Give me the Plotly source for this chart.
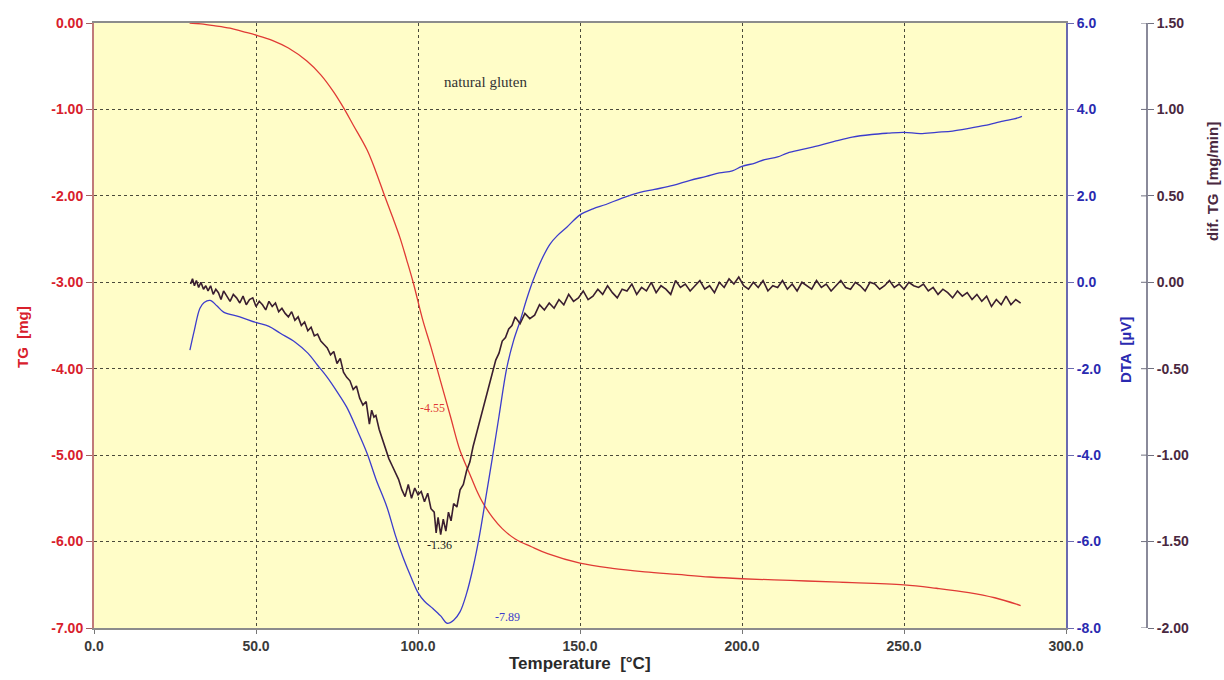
import plotly.graph_objects as go

# ---------------- data ----------------
tg_temp = [29.5, 33, 37, 42, 46, 50, 55, 60, 65.7, 70, 74, 77, 80, 84.3, 87, 89.8, 92, 94.4, 96.5,
           98.5, 101.5, 104, 107, 110, 113, 116, 118, 120, 123, 126, 130, 135, 140, 150, 160, 170,
           180, 190, 200, 215, 230, 250, 260, 270, 278, 286]
tg_mg = [0.0, -0.01, -0.03, -0.06, -0.10, -0.14, -0.20, -0.29, -0.44, -0.60, -0.80, -0.98, -1.18,
         -1.47, -1.72, -2.01, -2.23, -2.48, -2.74, -3.00, -3.44, -3.75, -4.15, -4.55, -4.95, -5.22,
         -5.40, -5.55, -5.72, -5.85, -5.97, -6.06, -6.14, -6.25, -6.31, -6.35, -6.38, -6.41, -6.43,
         -6.45, -6.47, -6.50, -6.54, -6.59, -6.65, -6.74]

dta_temp = [29.6, 31, 32.7, 34, 35.8, 38, 40, 45, 50, 54, 57.5, 62, 66, 69, 72, 75, 78, 81, 84.3,
            87, 90.4, 93, 95.4, 98, 100, 102, 104.6, 107, 109, 111, 113, 115, 117, 119, 121, 123.2,
            125, 127.4, 129.5, 131.5, 133.5, 135.5, 138, 140.7, 143, 146, 150, 154, 158, 163, 168.5,
            173, 178.7, 184, 189, 193, 197, 200, 204, 207, 211, 214, 219, 224, 229, 234, 240, 245,
            250, 255, 260, 265, 270, 275, 280.6, 284, 286.4]
dta_uv = [-1.57, -1.10, -0.60, -0.47, -0.42, -0.55, -0.69, -0.80, -0.93, -1.02, -1.18, -1.38, -1.64,
          -1.92, -2.20, -2.53, -2.89, -3.38, -3.96, -4.55, -5.20, -5.85, -6.37, -6.85, -7.18, -7.38,
          -7.55, -7.72, -7.89, -7.82, -7.62, -7.20, -6.60, -5.85, -4.95, -3.95, -3.10, -1.98, -1.35,
          -0.90, -0.40, 0.04, 0.50, 0.88, 1.08, 1.28, 1.56, 1.70, 1.80, 1.95, 2.08, 2.15, 2.24, 2.36,
          2.45, 2.53, 2.58, 2.68, 2.76, 2.84, 2.90, 2.99, 3.08, 3.17, 3.27, 3.36, 3.42, 3.45, 3.47,
          3.44, 3.47, 3.50, 3.56, 3.63, 3.73, 3.78, 3.84]

dtg_temp = [29.8, 30.4, 31.0, 31.6, 32.3, 33.0, 33.8, 34.5, 35.2, 36.0, 36.8, 37.6, 38.4, 39.2, 40.0,
            41, 42, 43, 44, 45, 46, 47, 48, 49, 50, 51, 52, 53, 54, 55, 56, 57, 58, 59, 60, 61, 62,
            63, 64, 65, 66, 67, 68, 69, 70, 71, 72, 73, 74, 75, 76, 77, 78, 79, 80, 81, 82, 83, 84,
            85, 85.7, 86.4, 87, 88, 89, 90, 91, 92, 93, 94, 95, 96, 97, 98, 99, 100, 101, 102, 103,
            104, 105, 105.6, 106.2, 107, 107.8, 108.6, 109.4, 110.2, 111, 112, 113, 114, 115, 116,
            117, 118, 119, 120, 121, 122, 123, 124, 125, 126, 127, 128, 129,
            130, 131.5, 133, 134.5, 136, 137.5, 139, 140.5, 142, 143.5, 145, 146.5, 148, 149.5,
            151, 152.5, 154, 155.5, 157, 158.5, 160, 161.5, 163, 164.5, 166, 167.5, 169, 170.5,
            172, 173.5, 175, 176.5, 178, 179.5, 181, 182.5, 184, 185.5, 187, 188.5, 190, 191.5,
            193, 194.5, 196, 197.5, 199, 200.5, 202, 203.5, 205, 206.5, 208, 209.5, 211, 212.5,
            214, 215.5, 217, 218.5, 220, 221.5, 223, 224.5, 226, 227.5, 229, 230.5, 232, 233.5,
            235, 236.5, 238, 239.5, 241, 242.5, 244, 245.5, 247, 248.5, 250, 251.5, 253, 254.5,
            256, 257.5, 259, 260.5, 262, 263.5, 265, 266.5, 268, 269.5, 271, 272.5, 274, 275.5,
            277, 278.5, 280, 281.5, 283, 284.5, 286]
dtg_val = [-0.01, 0.02, -0.02, 0.01, -0.03, 0.00, -0.04, -0.02, -0.05, -0.02, -0.07, -0.04, -0.06,
           -0.10, -0.05, -0.08, -0.11, -0.07, -0.09, -0.12, -0.08, -0.13, -0.10, -0.09, -0.14, -0.11,
           -0.13, -0.16, -0.11, -0.14, -0.12, -0.17, -0.15, -0.18, -0.20, -0.17, -0.22, -0.20, -0.25,
           -0.23, -0.28, -0.26, -0.31, -0.30, -0.34, -0.36, -0.38, -0.42, -0.40, -0.47, -0.44, -0.52,
           -0.55, -0.57, -0.62, -0.60, -0.67, -0.71, -0.69, -0.82, -0.74, -0.78, -0.77, -0.85, -0.91,
           -0.97, -1.02, -1.06, -1.10, -1.14, -1.20, -1.24, -1.17, -1.25, -1.19, -1.23, -1.21, -1.27,
           -1.22, -1.31, -1.33, -1.45, -1.36, -1.46, -1.37, -1.44, -1.33, -1.38, -1.28, -1.30, -1.20,
           -1.17, -1.09, -1.04, -0.95, -0.88, -0.81, -0.73, -0.67, -0.59, -0.53, -0.45, -0.41, -0.34,
           -0.32, -0.27, -0.25,
           -0.20, -0.24, -0.18, -0.21, -0.19, -0.13, -0.16, -0.12, -0.15, -0.10, -0.13, -0.07,
           -0.11, -0.09, -0.05, -0.10, -0.08, -0.04, -0.07, -0.02, -0.06, -0.09, -0.04, -0.05,
           -0.01, -0.07, -0.03, -0.05, 0.00, -0.06, -0.02, -0.04, -0.07, 0.01, -0.03, -0.01,
           -0.05, -0.02, 0.01, -0.04, -0.02, -0.06, 0.00, -0.03, 0.02, -0.01, 0.03, -0.02,
           -0.04, 0.00, -0.03, 0.01, -0.05, -0.02, -0.03, 0.01, -0.04, -0.01, -0.05, 0.00,
           -0.02, -0.04, 0.01, -0.03, -0.01, -0.05, -0.02, 0.01, -0.03, -0.04, 0.00, -0.02,
           -0.05, 0.00, -0.01, -0.04, -0.02, 0.01, -0.03, -0.01, -0.04, 0.00, -0.02, -0.03,
           -0.01, -0.05, -0.03, -0.07, -0.04, -0.06, -0.09, -0.05, -0.08, -0.06, -0.10, -0.07,
           -0.11, -0.08, -0.14, -0.10, -0.13, -0.08, -0.13, -0.10, -0.12]

x_ticks = [0, 50, 100, 150, 200, 250, 300]
x_labels = ["0.0", "50.0", "100.0", "150.0", "200.0", "250.0", "300.0"]
tg_ticks = [0, -1, -2, -3, -4, -5, -6, -7]
tg_labels = ["0.00", "-1.00", "-2.00", "-3.00", "-4.00", "-5.00", "-6.00", "-7.00"]
dta_ticks = [6, 4, 2, 0, -2, -4, -6, -8]
dta_labels = ["6.0", "4.0", "2.0", "0.0", "-2.0", "-4.0", "-6.0", "-8.0"]
dtg_ticks = [1.5, 1.0, 0.5, 0.0, -0.5, -1.0, -1.5, -2.0]
dtg_labels = ["1.50", "1.00", "0.50", "0.00", "-0.50", "-1.00", "-1.50", "-2.00"]

# ---------------- style ----------------
RED = "#E03A35"
RED_TXT = "#D8202C"
BLUE = "#3C3CCC"
BLUE_TXT = "#2A2AB0"
DARK = "#3A1E30"
PURP_TXT = "#4A2840"
GRID = "#4A4A3A"
FONT = "Liberation Sans"
SERIF = "Liberation Serif"

W, H = 1224, 680
ML, MR, MT, MB = 94, 77, 23, 52
PW = W - ML - MR
PH = H - MT - MB
xdom_end = (1066 - ML) / PW

fig = go.Figure()
fig.add_trace(go.Scatter(x=tg_temp, y=tg_mg, mode="lines", line=dict(color=RED, width=1.3),
                         yaxis="y", showlegend=False, line_shape="spline"))
fig.add_trace(go.Scatter(x=dta_temp, y=dta_uv, mode="lines", line=dict(color=BLUE, width=1.3),
                         yaxis="y2", showlegend=False, line_shape="spline"))
fig.add_trace(go.Scatter(x=dtg_temp, y=dtg_val, mode="lines", line=dict(color=DARK, width=1.6),
                         yaxis="y3", showlegend=False))

fig.update_layout(
    width=W, height=H,
    margin=dict(l=ML, r=MR, t=MT, b=MB, pad=0),
    paper_bgcolor="white",
    plot_bgcolor="#FFFDC8",
    xaxis=dict(domain=[0, xdom_end], range=[0, 300], tickvals=x_ticks, ticktext=x_labels,
               showgrid=True, gridcolor=GRID, griddash="dot", gridwidth=1,
               showline=True, linecolor="#8C8C8C", linewidth=2, mirror=True,
               ticks="outside", ticklen=4, tickcolor="#777",
               tickfont=dict(family=FONT, size=14, color="#3A3A3A", weight="bold"),
               zeroline=False),
    yaxis=dict(range=[-7, 0], tickvals=tg_ticks, ticktext=tg_labels,
               showgrid=True, gridcolor=GRID, griddash="dot", gridwidth=1,
               showline=True, linecolor="#C07A7A", linewidth=2,
               ticks="outside", ticklen=6, tickcolor="#A06060",
               tickfont=dict(family=FONT, size=14, color=RED_TXT, weight="bold"),
               zeroline=False),
    yaxis2=dict(range=[-8, 6], tickvals=dta_ticks, ticktext=dta_labels, overlaying="y",
                side="right", anchor="x", showgrid=False, zeroline=False,
                showline=True, linecolor="#6A6AB0", linewidth=2,
                ticks="outside", ticklen=6, tickcolor="#6A6AB0",
                tickfont=dict(family=FONT, size=14, color=BLUE_TXT, weight="bold")),
    yaxis3=dict(range=[-2, 1.5], tickvals=dtg_ticks, ticktext=dtg_labels, overlaying="y",
                side="right", anchor="free", position=1.0, showgrid=False, zeroline=False,
                showline=True, linecolor="#8A8A9A", linewidth=2,
                ticks="outside", ticklen=6, tickcolor="#707080",
                tickfont=dict(family=FONT, size=14, color=PURP_TXT, weight="bold")),
)

# inner half of the crossing ticks on the dif. TG axis
for v in dtg_ticks:
    fig.add_shape(type="line", xref="paper", yref="y3", x0=1.0, x1=1.0 - 6 / PW, y0=v, y1=v,
                  line=dict(color="#707080", width=1))


def px_to_paper(px, py):
    return (px - ML) / PW, (H - MB - py) / PH


annots = []
x, y = px_to_paper(22, 337)
annots.append(dict(x=x, y=y, text="TG  [mg]", textangle=-90,
                   font=dict(family=FONT, size=15, color=RED_TXT, weight="bold")))
x, y = px_to_paper(1125, 350)
annots.append(dict(x=x, y=y, text="DTA  [µV]", textangle=-90,
                   font=dict(family=FONT, size=15, color=BLUE_TXT, weight="bold")))
x, y = px_to_paper(1213, 182)
annots.append(dict(x=x, y=y, text="dif. TG  [mg/min]", textangle=-90,
                   font=dict(family=FONT, size=15, color=PURP_TXT, weight="bold")))
x, y = px_to_paper(580, 663)
annots.append(dict(x=x, y=y, text="Temperature  [°C]",
                   font=dict(family=FONT, size=17, color="#2A2A2A", weight="bold")))
x, y = px_to_paper(485, 82)
annots.append(dict(x=x, y=y, text="natural gluten",
                   font=dict(family=SERIF, size=15, color="#333333")))
for a in annots:
    a.update(xref="paper", yref="paper", showarrow=False, xanchor="center", yanchor="middle")
    fig.add_annotation(**a)

fig.add_annotation(x=104.6, y=-4.46, xref="x", yref="y", text="-4.55", showarrow=False,
                   font=dict(family=SERIF, size=12, color=RED))
fig.add_annotation(x=106.5, y=-1.52, xref="x", yref="y3", text="-1.36", showarrow=False,
                   font=dict(family=SERIF, size=12, color="#222222"))
fig.add_annotation(x=127.5, y=-7.75, xref="x", yref="y2", text="-7.89", showarrow=False,
                   font=dict(family=SERIF, size=12, color=BLUE))

fig.write_html("out.html")
